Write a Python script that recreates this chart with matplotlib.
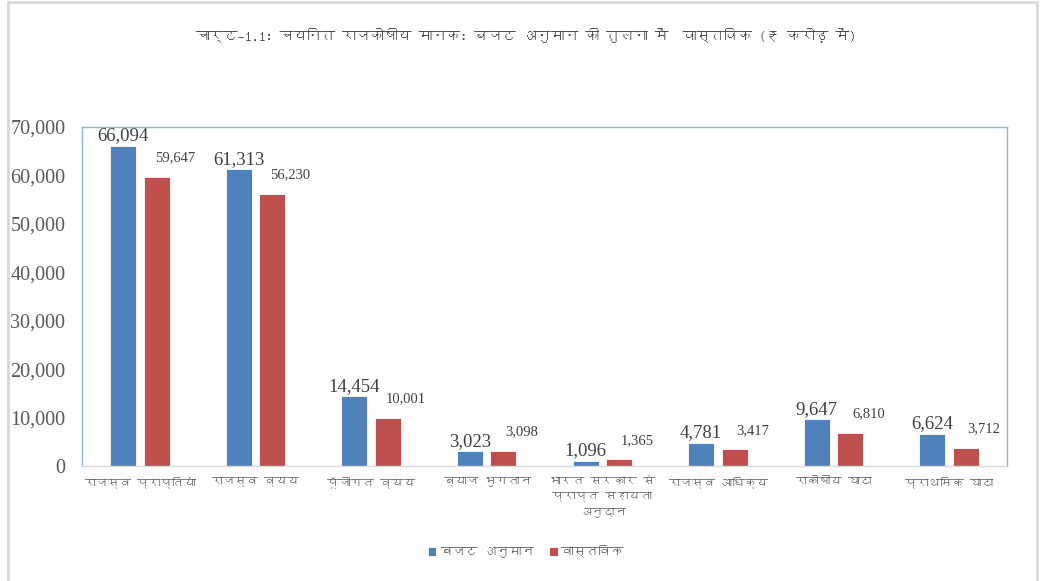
import matplotlib
matplotlib.use("Agg")
import matplotlib.pyplot as plt
from matplotlib import font_manager
from matplotlib.ft2font import FT2Font
from matplotlib.patches import Rectangle
import numpy as np

categories = ["राजस्व प्राप्तियां", "राजस्व व्यय", "पूँजीगत व्यय", "ब्याज भुगतान",
              "भारत सरकार से\nप्राप्त सहायता\nअनुदान", "राजस्व आधिक्य", "राकोषीय घाटा", "प्राथमिक घाटा"]
budget = [66094, 61313, 14454, 3023, 1096, 4781, 9647, 6624]
actual = [59647, 56230, 10001, 3098, 1365, 3417, 6810, 3712]
series_names = ["बजट अनुमान", "वास्तविक"]
title = "चार्ट–1.1: चयनित राजकोषीय मानक: बजट अनुमान की तुलना में  वास्तविक (₹ करोड़ में)"

# find a font with Devanagari
deva = None
for f in font_manager.fontManager.ttflist:
    try:
        ft = FT2Font(f.fname)
        cm = ft.get_charmap()
        if 0x0915 in cm:
            deva = f.name
            break
    except Exception:
        pass
fam = [deva, "DejaVu Sans"] if deva else ["DejaVu Sans"]

fig = plt.figure(figsize=(10.41, 5.81), dpi=100)
ax = fig.add_axes([82/1041, 1-466/581, (1007-82)/1041, (466-127)/581])

x = np.arange(len(categories))
w = 0.225
off = 0.145
blue = "#4F81BD"
red = "#C0504D"
b1 = ax.bar(x - off, budget, w, color=blue, edgecolor="white", linewidth=0.6, label=series_names[0])
b2 = ax.bar(x + off, actual, w, color=red, edgecolor="white", linewidth=0.6, label=series_names[1])

ax.set_xlim(-0.5, len(categories) - 0.5)
ax.set_ylim(0, 70000)
ax.set_yticks(np.arange(0, 70001, 10000))
ax.set_yticklabels([f"{v:,}" for v in range(0, 70001, 10000)], fontfamily="Liberation Serif",
                   fontsize=14.5, color="#595959")
ax.set_xticks(x)
ax.set_xticklabels(categories, fontfamily=fam, fontsize=8.5, color="#595959", linespacing=1.7)
ax.tick_params(axis="y", length=0, pad=12)
ax.tick_params(axis="x", length=0, pad=7)

for s in ["top", "right", "left"]:
    ax.spines[s].set_color("#8EB4E3")
    ax.spines[s].set_linewidth(1.0)
ax.spines["bottom"].set_color("#D9D9D9")
ax.spines["bottom"].set_linewidth(1.0)

for xi, v in zip(x, budget):
    ax.annotate(f"{v:,}", (xi - off, v), xytext=(0, 1), textcoords="offset points",
                ha="center", va="bottom", fontfamily="Liberation Serif", fontsize=13.5, color="#404040")
for xi, v in zip(x, actual):
    ax.annotate(f"{v:,}", (xi + off, v), xytext=(13, 9), textcoords="offset points",
                ha="center", va="bottom", fontfamily="Liberation Serif", fontsize=10.5, color="#404040")

fig.text(0.505, 1-35/581, title, ha="center", va="center", fontfamily=fam, fontsize=10,
         fontweight="bold", color="#404040")

leg = fig.legend(handles=[b1, b2], labels=series_names, loc="center", bbox_to_anchor=(0.505, 1-551/581),
                 ncol=2, frameon=False, prop={"family": fam, "size": 9}, handlelength=0.7,
                 handleheight=0.7, handletextpad=0.3, columnspacing=1.2)
for t in leg.get_texts():
    t.set_color("#595959")

fig.add_artist(Rectangle((8/1041, -0.01), (1037-8)/1041, 1-2/581 + 0.01, transform=fig.transFigure,
                         fill=False, edgecolor="#D9D9D9", linewidth=2))

fig.savefig("out.png", dpi=100)
